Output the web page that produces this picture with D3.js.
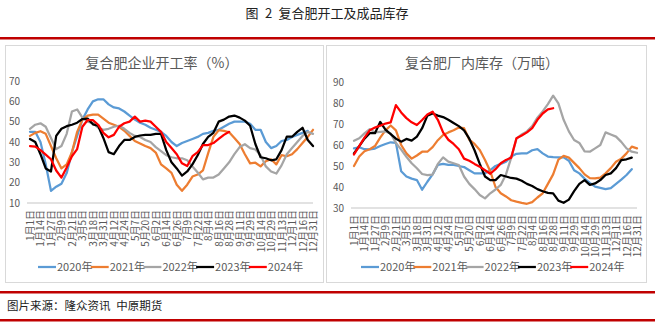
<!DOCTYPE html>
<html><head><meta charset="utf-8">
<script src="https://cdn.jsdelivr.net/npm/d3@7"></script>
<style>
html,body{margin:0;padding:0;background:#fff;}
svg{display:block;}
</style></head>
<body>
<svg id="c" width="655" height="323"></svg>
<script>
const xLabels = ["1月1日","1月14日","1月27日","2月9日","2月21日","3月5日","3月18日","3月31日","4月12日","4月24日","5月7日","5月20日","6月2日","6月14日","6月26日","7月9日","7月22日","8月4日","8月16日","8月28日","9月11日","9月29日","10月14日","10月29日","11月13日","12月1日","12月16日","12月31日"];
const seriesNames = ["2020年","2021年","2022年","2023年","2024年"];
const seriesColors = ["#5b9bd5","#ed7d31","#a5a5a5","#000000","#ff0000"];

// 复合肥企业开工率（%）
const rate2020 = [45,45,40,29,16,18,19.5,24.7,35,43,51,56,60,61,61,58.5,57,56.5,55,53,51,49.5,48.5,47,46,45,43,40,38,39.5,40.5,41.5,42.5,44,44.5,45.5,46,47.5,49,50,50,50,49,46,46,40,37,38,40.5,41,42.5,43.5,44.5,45.5,null];
const rate2021 = [43,44.5,45.3,44,38,32,27,29,35,45,51,53,53.5,53.5,51.5,49.5,48.5,47.5,45.5,43,40.5,39.3,38,37,34.8,29,27,24.8,19,16,19,23,24,26,34.5,42.5,45.8,45.5,44.8,42,39,34,29.5,29.8,28,30.5,31.5,29,33.5,33,34,36.5,39.5,42.5,46];
const rate2022 = [46.5,48.5,49.2,47.5,42,36.5,38,44,55,56,52,50,49.3,47,46,46.5,47.5,48,46.5,44.5,43,42.5,41,40,37.5,35.5,33.5,32.5,32,32,31,28,25,21.6,22.5,22.5,24,27,30,34,37.5,38.9,37,36.3,33.5,28,25.5,24.5,28.5,34,37,40,43,45,44];
const rate2023 = [41.5,40,34,27,25.5,43,46.5,47.8,48.5,49.5,51.3,51.5,48.7,48,42,35,34,38,41,41,42.5,43.2,43.5,43.5,44,44,36,30,27,23.5,25.5,29,33.5,39,42.5,44.5,50,51,52.5,53,52,50.5,48,39,32.5,32,31,31.5,36,42.6,42.6,45,47,41,38];
const rate2024 = [38,37.7,36,33.8,31.5,26,22.5,27.5,33,36.5,47.5,50.8,50.8,48.5,44.5,42.3,43.5,47.5,49.2,50,52.5,50,50.5,50,47.5,45,40,37,34,29.5,28.2,33,35,38.5,38.5,39.5,41.5,43.5,45];

// 复合肥厂内库存（万吨）
const stock2020 = [58.4,58.9,58,57.9,58.3,59.5,60.5,61.3,61,47.5,45,44,43.3,38.7,42.5,46,50.5,51,50.5,50.5,50,49.5,48,46.5,46.5,46.5,48,50,51,52,54.5,55.8,56,56,57.5,58,56,54.5,54.2,54.1,54.1,52.5,48,46.5,44,42,40.2,39.6,39,39.5,41.5,43.5,45.7,48.5,null];
const stock2021 = [50,54.5,57,58,59.5,63.5,67,69.3,67,60,56,53.5,55,56.8,56.8,59,62.3,64.8,66,67,68.3,68,62.5,60.5,57.6,52.9,47.5,40,37,35.5,33.7,33,32.4,32,32.8,35,37,41.5,46,53,54.8,54,51.5,49,46,44.2,44.1,44.5,46.5,49,52,53.5,56,59.2,58.4];
const stock2022 = [62,63.2,65.5,67.5,66,66.3,66.5,65.5,61,57.8,54.4,51.3,48.9,46.2,45.7,45.9,51,54.1,52.1,51.3,50.5,45,41.5,39,36.2,34.6,37,38.8,41,46,54,63,65,66.5,69,73,76,79.5,83.5,79.8,72,66.5,62.4,61,57,56.8,58.4,60,66,65,64,61.5,58.4,56.8,56.3];
const stock2023 = [56,59.5,63,65.6,65.6,71,67.3,65.2,63,61.6,62.9,62.1,64,68,74,75,74,73.3,72,70.5,69,67,63,57.5,51,45,43.3,43.3,45.7,45,44.3,44,43,41.5,40.5,39,38,37.2,37,33.5,32.5,34,38,41.5,43.3,41,41.7,43.3,45.7,46.5,49,52.8,53.2,54,null];
const stock2024 = [55.5,59.5,63.5,67,68.3,69.2,70.2,70.8,79,75.5,72.8,70.8,69.5,71.9,74.5,75.9,72,66,62.5,60.5,58,53.5,52.5,51,49.7,48,46.3,48.5,51.3,52.9,54,63.2,64.5,66,68,72,75,77,77.5];

const yTicksRate = [10,20,30,40,50,60,70];
const yTicksStock = [30,40,50,60,70,80,90];

const svg = d3.select("#c");
const FONT = "'Microsoft YaHei','Noto Sans CJK SC','Noto Sans',sans-serif";
const TXT = "#595959";

// page header / footer
svg.append("text").attr("x",327).attr("y",18).attr("text-anchor","middle")
  .attr("font-family","'Noto Sans CJK SC',serif").attr("font-size",13).attr("fill","#222")
  .text("图\u20022\u2002复合肥开工及成品库存");
svg.append("rect").attr("x",0).attr("y",37).attr("width",655).attr("height",2.5).attr("fill","#c00000");
svg.append("rect").attr("x",0).attr("y",291).attr("width",655).attr("height",2.5).attr("fill","#c00000");
svg.append("rect").attr("x",0).attr("y",319).attr("width",655).attr("height",2.5).attr("fill","#c00000");
svg.append("text").attr("x",7).attr("y",310)
  .attr("font-family","'Noto Sans CJK SC',serif").attr("font-size",11.5).attr("fill","#222")
  .text("图片来源：隆众资讯\u2002中原期货");

function drawChart(cfg){
  const g = svg.append("g");
  g.append("rect").attr("x",cfg.box[0]+0.5).attr("y",cfg.box[1]+0.5)
    .attr("width",cfg.box[2]).attr("height",cfg.box[3])
    .attr("fill","#fff").attr("stroke","#d9d9d9").attr("stroke-width",1);
  g.append("text").attr("x",cfg.titleX).attr("y",68).attr("text-anchor","middle")
    .attr("font-family",FONT).attr("font-size",14).attr("fill",TXT).text(cfg.title);

  const x = d3.scaleLinear().domain([0,54]).range(cfg.xr);
  const y = d3.scaleLinear().domain(cfg.ydom).range(cfg.yr);

  // y labels
  const ya = d3.axisLeft(y).tickValues(cfg.yticks).tickSize(0).tickPadding(0);
  const yg = g.append("g").attr("transform",`translate(${cfg.ylabX},0)`).call(ya);
  yg.select(".domain").remove();
  yg.selectAll("text").attr("font-family",FONT).attr("font-size",10).attr("fill",TXT);

  // baseline
  g.append("line").attr("x1",cfg.xr[0]-3).attr("x2",cfg.xr[1]).attr("y1",y(cfg.ydom[0])).attr("y2",y(cfg.ydom[0]))
    .attr("stroke","#d9d9d9").attr("stroke-width",1.5);

  // x labels
  const xa = d3.axisBottom(x).tickValues(d3.range(0,55,2)).tickFormat(d=>xLabels[d/2]).tickSize(0);
  const xg = g.append("g").attr("transform",`translate(0,${y(cfg.ydom[0])})`).call(xa);
  xg.select(".domain").remove();
  xg.selectAll("text").attr("font-family",FONT).attr("font-size",10).attr("fill",TXT)
    .attr("text-anchor","end").attr("dy","0.35em")
    .attr("transform","translate(0,7) rotate(-90)").attr("x",0).attr("y",0);

  const line = d3.line().defined(d=>d!=null).x((d,i)=>x(i)).y(d=>y(d));
  cfg.data.forEach((s,k)=>{
    g.append("path").datum(s).attr("d",line).attr("fill","none")
      .attr("stroke",seriesColors[k]).attr("stroke-width",2.25)
      .attr("stroke-linejoin","round").attr("stroke-linecap","round");
  });

  // legend
  seriesNames.forEach((n,k)=>{
    const lx = cfg.legX + k*cfg.legStep;
    g.append("line").attr("x1",lx).attr("x2",lx+18).attr("y1",267).attr("y2",267)
      .attr("stroke",seriesColors[k]).attr("stroke-width",2.25);
    g.append("text").attr("x",lx+19).attr("y",267).attr("dy","0.35em")
      .attr("font-family",FONT).attr("font-size",11).attr("fill",TXT).text(n);
  });
}

drawChart({box:[5,45,318,237], title:"复合肥企业开工率（%）", titleX:162,
  xr:[30,313], ydom:[10,70], yr:[203,81], yticks:yTicksRate, ylabX:20,
  data:[rate2020,rate2021,rate2022,rate2023,rate2024], legX:38, legStep:52.7});
drawChart({box:[326,45,320,237], title:"复合肥厂内库存（万吨）", titleX:482,
  xr:[354,637], ydom:[30,90], yr:[208,82], yticks:yTicksStock, ylabX:344,
  data:[stock2020,stock2021,stock2022,stock2023,stock2024], legX:361, legStep:52.3});
</script>
</body></html>
